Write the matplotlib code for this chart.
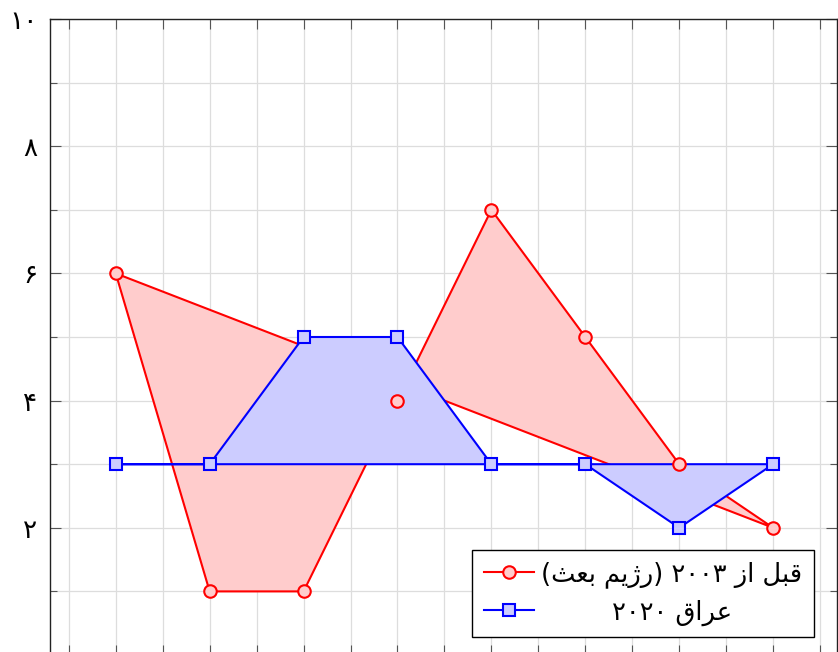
import matplotlib
matplotlib.use("Agg")
import matplotlib.pyplot as plt
from matplotlib.lines import Line2D
from matplotlib.ticker import MultipleLocator, FixedLocator

# data
x = [1, 2, 3, 4, 5, 6, 7, 8]
before_2003 = [6, 1, 1, 4, 7, 5, 3, 2]
iraq_2020 = [3, 3, 5, 5, 3, 3, 2, 3]
y_ticks = [2, 4, 6, 8, 10]
y_tick_labels = ["۲", "۴", "۶", "۸", "۱۰"]

# labels in visual order (presentation forms, shaped by hand)
label_before = "(\uFE9A\uFECC\uFE91 \uFEE2\uFBFE\uFB8A\uFEAD) ۲۰۰۳ \uFEAF\uFE8D \uFEDE\uFE92\uFED7"
label_2020 = "۲۰۲۰ \uFED5\uFE8D\uFEAE\uFECB"

RED = "#ff0000"
RED_FILL = "#ffcccc"
BLUE = "#0000ff"
BLUE_FILL = "#ccccff"

plt.rcParams["font.family"] = ["DejaVu Sans"]

W, H = 838, 652
fig = plt.figure(figsize=(W / 100, H / 100), dpi=100)
ax = fig.add_axes([50 / W, (H - 655) / H, 787 / W, 636 / H])

ax.fill(x, before_2003, facecolor=RED_FILL, edgecolor=RED, linewidth=1.5, zorder=2)
ax.fill(x, iraq_2020, facecolor=BLUE_FILL, edgecolor=BLUE, linewidth=1.5, zorder=3)
ax.plot(x, before_2003, ls="none", marker="o", ms=9, mfc=RED_FILL, mec=RED,
        mew=1.5, zorder=5, clip_on=False)
ax.plot(x, iraq_2020, ls="none", marker="s", ms=9, mfc=BLUE_FILL, mec=BLUE,
        mew=1.5, zorder=5, clip_on=False)

ax.set_xlim(0.3, 8.68)
ax.set_ylim(0, 10)

ax.xaxis.set_major_locator(MultipleLocator(0.5))
ax.yaxis.set_major_locator(FixedLocator(y_ticks))
ax.yaxis.set_minor_locator(MultipleLocator(1))
ax.set_xticklabels([])
ax.set_yticklabels(y_tick_labels, fontsize=19)
ax.tick_params(axis="both", which="both", direction="in", top=True, right=True,
               color="#555555", width=0.8)
ax.tick_params(axis="x", which="major", length=7, labelbottom=False)
ax.tick_params(axis="y", which="major", length=8, pad=9)
ax.tick_params(axis="y", which="minor", length=5)

ax.grid(True, which="both", color="#dddddd", linewidth=0.9, zorder=0)
ax.set_axisbelow(True)
for s in ax.spines.values():
    s.set_linewidth(1.0)
    s.set_color("#222222")

handles = [
    Line2D([], [], color=RED, lw=1.5, marker="o", ms=9, mfc=RED_FILL, mec=RED, mew=1.5),
    Line2D([], [], color=BLUE, lw=1.5, marker="s", ms=9, mfc=BLUE_FILL, mec=BLUE, mew=1.5),
]
leg = ax.legend(handles, [label_before, label_2020], loc="lower right",
                bbox_to_anchor=(0.971, 0.028), borderaxespad=0, fontsize=18.5,
                handlelength=1.95, handletextpad=0.3, labelspacing=0.45,
                borderpad=0.45, fancybox=False, framealpha=1, edgecolor="black")
leg.get_frame().set_linewidth(1.0)
leg.set_zorder(10)

# center the shorter label under the longer one
fig.canvas.draw()
r = fig.canvas.get_renderer()
t0, t1 = leg.get_texts()
w0 = t0.get_window_extent(r).width
w1 = t1.get_window_extent(r).width
t1.set_x((w0 - w1) / 2)

fig.savefig("out.png", dpi=100)
